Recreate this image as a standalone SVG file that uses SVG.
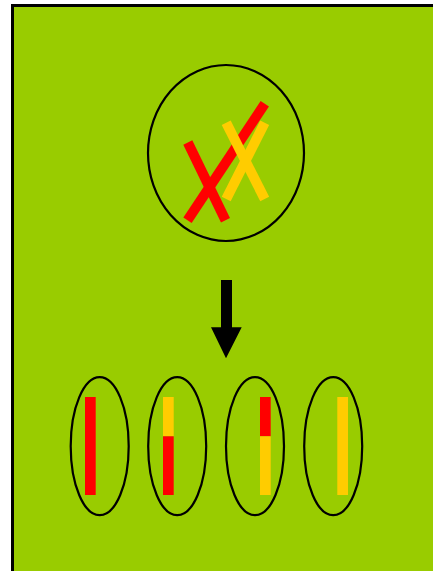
<svg xmlns="http://www.w3.org/2000/svg" width="433" height="571" viewBox="0 0 433 571">
  <style>
    .cell { fill: none; stroke: #000; stroke-width: 2.2; }
    .red { stroke: #FF0000; stroke-width: 10; stroke-linecap: butt; }
    .yel { stroke: #FFCC00; stroke-width: 10; stroke-linecap: butt; }
  </style>
  <!-- background panel -->
  <rect x="12.5" y="5.5" width="430" height="580" fill="#99CC00" stroke="#000" stroke-width="3"/>

  <!-- parent cell with crossed chromosome pairs -->
  <g id="parent-cell">
    <ellipse class="cell" cx="226" cy="153" rx="78" ry="88"/>
    <line class="red" x1="264.8" y1="103.8" x2="187.5" y2="220.3"/>
    <line class="red" x1="187.8" y1="142.5" x2="225.5" y2="220.2"/>
    <line class="yel" x1="226.2" y1="122.8" x2="264.7" y2="199"/>
    <line class="yel" x1="264.7" y1="122.8" x2="226.2" y2="199"/>
  </g>

  <!-- arrow -->
  <g id="connectors">
    <path d="M221,280 H232 V327.3 H241.7 L226,358.3 L211,327.3 H221 Z" fill="#000"/>
  </g>

  <!-- daughter cells -->
  <g id="cell-1">
    <ellipse class="cell" cx="99.7" cy="446.2" rx="29" ry="69"/>
    <rect x="85" y="397" width="10.7" height="98" fill="#FF0000"/>
  </g>
  <g id="cell-2">
    <ellipse class="cell" cx="177.2" cy="446.2" rx="29" ry="69"/>
    <rect x="163" y="397" width="10.7" height="39.3" fill="#FFCC00"/>
    <rect x="163" y="436.3" width="10.7" height="58.7" fill="#FF0000"/>
  </g>
  <g id="cell-3">
    <ellipse class="cell" cx="255" cy="446.2" rx="29" ry="69"/>
    <rect x="260" y="397" width="10.7" height="39.3" fill="#FF0000"/>
    <rect x="260" y="436.3" width="10.7" height="58.7" fill="#FFCC00"/>
  </g>
  <g id="cell-4">
    <ellipse class="cell" cx="333.2" cy="446.2" rx="29" ry="69"/>
    <rect x="337.3" y="397" width="10.7" height="98" fill="#FFCC00"/>
  </g>
</svg>
